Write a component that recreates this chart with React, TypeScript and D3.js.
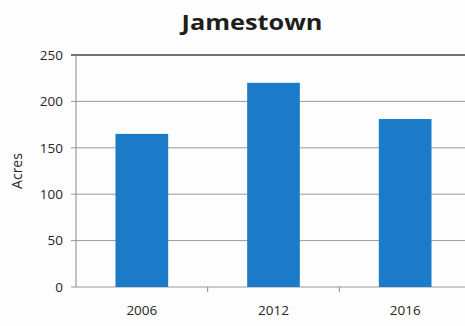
import React from "react";
import * as d3 from "d3";

const categories = ["2006", "2012", "2016"];
const values = [165, 220, 181];
const yTicks = [0, 50, 100, 150, 200, 250];
const title = "Jamestown";
const yLabel = "Acres";

const W = 465;
const H = 326;
const M = { left: 76, right: -6, top: 55, bottom: 39 };

export default function App() {
  const x = d3
    .scaleBand<string>()
    .domain(categories)
    .range([M.left, W - M.right])
    .paddingInner(0.6)
    .paddingOuter(0.3);
  const y = d3.scaleLinear().domain([0, 250]).range([H - M.bottom, M.top]);
  const step = x.step();
  const font = "'Open Sans', 'Liberation Sans', sans-serif";

  return (
    <svg
      width={W}
      height={H}
      style={{ position: "absolute", left: 0, top: 0, background: "#fff" }}
      fontFamily={font}
    >
      <rect x={0} y={0} width={W} height={H} fill="#fdfdfd" />
      <text
        x={252}
        y={30}
        textAnchor="middle"
        fontSize={22}
        fontWeight="bold"
        fill="#1e1e1e"
        textLength={141}
        lengthAdjust="spacingAndGlyphs"
      >
        {title}
      </text>
      {yTicks.map((t) => (
        <g key={t}>
          <line
            x1={M.left - 5}
            x2={W}
            y1={y(t)}
            y2={y(t)}
            stroke={t === 250 ? "#444" : "#9a9a9a"}
            strokeWidth={t === 250 ? 1.3 : 1}
          />
          <text
            x={63}
            y={y(t)}
            dy="0.35em"
            textAnchor="end"
            fontSize={13.5}
            fill="#262626"
          >
            {t}
          </text>
        </g>
      ))}
      <line x1={M.left} x2={M.left} y1={M.top} y2={y(0)} stroke="#888" />
      {categories.slice(0, -1).map((c) => (
        <line
          key={"t" + c}
          x1={(x(c) as number) + x.bandwidth() / 2 + step / 2}
          x2={(x(c) as number) + x.bandwidth() / 2 + step / 2}
          y1={y(0)}
          y2={y(0) + 5}
          stroke="#888"
        />
      ))}
      {categories.map((c, i) => (
        <rect
          key={c}
          x={x(c)}
          y={y(values[i])}
          width={x.bandwidth()}
          height={y(0) - y(values[i])}
          fill="#1b7bc9"
        />
      ))}
      {categories.map((c) => (
        <text
          key={"l" + c}
          x={(x(c) as number) + x.bandwidth() / 2}
          y={315}
          textAnchor="middle"
          fontSize={13.5}
          fill="#262626"
        >
          {c}
        </text>
      ))}
      <text
        transform={`translate(22,${(M.top + y(0)) / 2}) rotate(-90)`}
        textAnchor="middle"
        fontSize={14}
        fill="#262626"
      >
        {yLabel}
      </text>
    </svg>
  );
}
